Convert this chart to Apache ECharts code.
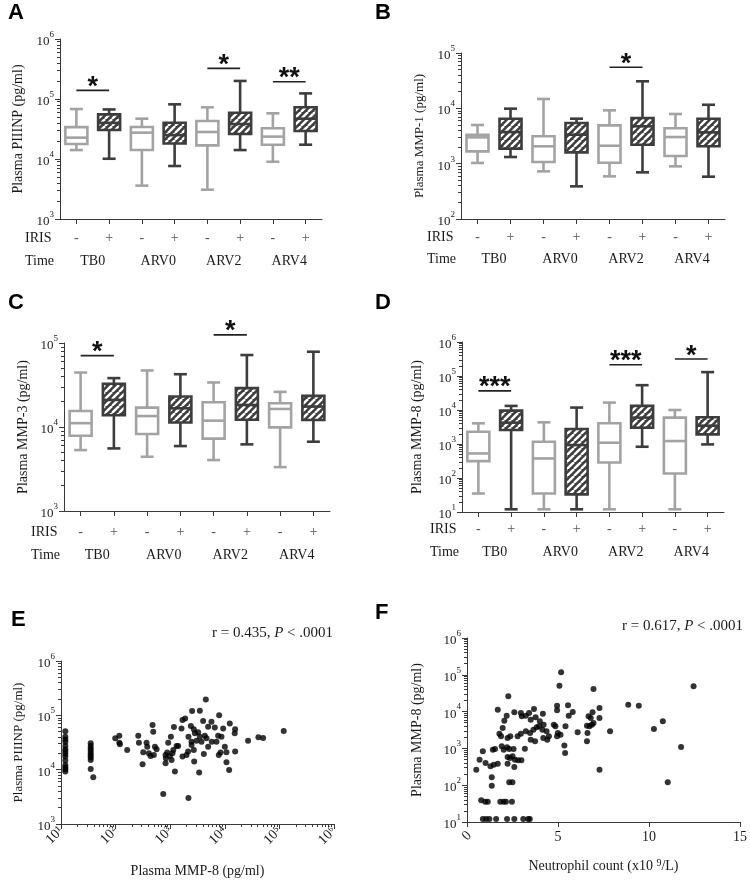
<!DOCTYPE html>
<html><head><meta charset="utf-8">
<script src="https://cdn.jsdelivr.net/npm/echarts@6/dist/echarts.min.js"></script>
<style>html,body{margin:0;padding:0;background:#fff}#c{width:750px;height:886px}</style>
</head><body><div id="c"></div>
<script>
// ---------- data ----------
const groups = ['TB0-','TB0+','ARV0-','ARV0+','ARV2-','ARV2+','ARV4-','ARV4+'];
const irisLabels = ['-','+','-','+','-','+','-','+'];
const timeLabels = ['TB0','ARV0','ARV2','ARV4'];

// each box: [min, Q1, median, Q3, max]
const boxA = [[14100,17800,22700,34000,68000],[10100,30400,40000,55500,67000],
  [3600,14100,27500,34200,47000],[7640,18100,25000,40300,81500],
  [3080,16900,28200,43000,72700],[14100,26100,38300,59100,200000],
  [9000,17300,23600,32500,57700],[17300,29300,47000,72700,124000]];
const boxB = [[1030,1670,2990,3340,5000],[1320,1870,3730,6500,9860],
  [726,1070,2060,3120,14750],[389,1600,3340,5430,6500],
  [590,1040,2110,4930,9200],[697,2200,4730,6690,30800],
  [895,1380,3030,4360,7900],[582,2060,3680,6500,11600]];
const boxC = [[5310,7870,11100,15500,44500],[5560,13800,21000,32700,38200],
  [4420,8240,13500,17000,47100],[5930,11300,16700,23100,42500],
  [4040,7270,11900,19700,33900],[6210,12200,18300,29000,71900],
  [3330,9910,16400,19200,26200],[6680,12100,17500,23500,78700]];
const boxD = [[35,313,527,2300,4060],[12,2580,4250,9590,13200],
  [12,35,376,1170,4340],[12,33,930,2760,11800],
  [12,286,1090,4060,16500],[830,3020,5970,13200,53700],
  [12,135,1220,5970,10000],[973,1920,3460,6100,130000]];

// significance: [fromIndex, toIndex, level, stars]
const sigA = [[0,1,139000,'*'],[4,5,324000,'*'],[6,7,194000,'**']];
const sigB = [[4,5,55100,'*']];
const sigC = [[0,1,70700,'*'],[4,5,125000,'*']];
const sigD = [[0,1,36500,'***'],[4,5,214000,'***'],[6,7,315000,'*']];

// E: [MMP-8, PIIINP]
const scatterE = [[12,50700],[12,40500],[12,36100],[12,32300],[12,27300],[12,23700],[12,21500],[12,19500],[12,17400],[12,14700],[12,12200],[12,11100],[12,10200],[12,9240],
[35,30500],[35,27300],[35,24400],[35,22400],[35,20000],[35,18200],[35,16700],[35,15100],[35,10300],[39,7270],
[4490,195000],[2520,120000],[3490,121000],
[1680,81800],[1880,87700],[7880,100000],[4010,78400],
[475,66200],[1170,60900],[12340,71100],[5700,76300],
[489,50000],[1610,57500],[2390,63600],[2710,55200],[4950,61700],[6560,60000],[9330,57500],[15450,55200],[15200,46600],
[98.6,37800],[117,42200],[260,42200],[1030,40500],[2160,40500],[2830,46600],[3250,48600],[3490,40500],[4310,42200],[4620,37800],[7550,42200],[8690,40500],[41300,39400],[50300,38300],[120000,51400],
[117,31400],[120,29300],[267,31400],[369,31400],[919,31400],[2460,32800],[3030,34200],[3740,32800],[5780,32800],[7040,32800],[26700,34200],
[380,26500],[525,26500],[1310,27300],[1400,27300],[2460,28500],[4950,26500],[10000,26500],
[163,23100],[563,23700],[1140,23100],[2130,21500],[2710,23100],[8340,20600],[10720,20900],[15450,21500],
[321,20900],[407,20000],[882,20600],[1100,20000],[1990,18700],[4130,19500],[7770,18700],
[502,18700],[822,18700],[987,17900],[1680,17400],[437,17900],
[834,16200],[1060,15100],[2750,14100],[10720,13700],[12000,9910],
[312,12600],[822,13100],[1220,9240],[3390,8860],[745,3550],[2160,3000]];

// F: [neutrophil count, MMP-8]
const scatterF = [[5.17,117000],[5.08,50700],[6.95,41100],[12.45,48600],[2.27,26000],[1.69,11300],[2.18,7740],[2.96,9160],[2.60,9550],[3.68,11800],[4.95,14500],[5.55,14800],[8.86,15400],[9.44,14500],[7.28,12500],[7.28,6700],[5.81,9750],[4.17,8790],[4.95,10800],[3.41,9160],[3.01,7430],[2.05,5680],[1.96,3580],[3.50,6040],[3.77,6980],[3.23,7740],[4.0,5450],[3.96,3980],[3.83,3730],[4.21,4420],[3.65,3230],[4.14,3230],[4.37,2910],[3.23,2910],[3.47,2620],[2.96,2510],[2.78,2130],[2.38,2130],[1.78,2510],[1.87,2130],[2.23,1920],[3.50,1730],[3.74,1560],[4.19,1920],[4.41,1730],[4.5,2130],[4.77,4420],[4.86,3980],[4.99,2620],[5.14,2360],[4.95,2130],[5.59,7740],[5.41,3980],[6.08,2740],[6.59,4150],[6.68,7430],[6.8,6700],[6.86,4420],[6.73,3980],[6.62,2620],[6.59,1560],[6.95,4900],[6.9,9550],[7.86,2910],[5.35,1190],[5.39,750],[7.28,264],[10.27,3370],[10.76,5450],[11.76,1090],[11.03,120],
[0.51,264],[0.69,494],[0.87,832],[1.02,401],[1.29,326],[1.47,361],[1.69,385],[1.42,925],[1.54,964],[1.91,1140],[2.02,925],[2.2,1070],[2.32,964],[2.56,964],[2.23,583],[2.36,548],[2.5,608],[2.6,313],[2.63,494],[2.81,474],[2.99,474],[3.18,984],[2.23,385],[1.36,164],[1.36,97],[2.32,120],[2.5,120],
[0.78,38.8],[1.0,35.7],[1.14,35.7],[1.83,35.7],[2.01,35.7],[2.14,35.7],[2.47,35.7],
[0.87,12],[1.05,12],[1.23,12],[1.6,12],[2.2,12],[2.6,12],[3.09,12],[3.36,12],[3.45,12]];

const corrE = ['0.435', '.0001'];
const corrF = ['0.617', '.0001'];

// ---------- style ----------
const SERIF = '"Liberation Serif", "Times New Roman", serif';
const SANS = '"Liberation Sans", Arial, sans-serif';
const LIGHT = '#a3a3a3', DARK = '#3d3d3d', AXIS = '#3a3a3a', TXT = '#1a1a1a';
const BOX_W = 22, CAP_W = 13, LW = 2.6;
const SUP = { '1': '\u00b9', '2': '\u00b2', '3': '\u00b3', '4': '\u2074', '5': '\u2075', '6': '\u2076' };

function makeHatch() {
  const s = 7, c = document.createElement('canvas');
  c.width = s; c.height = s;
  const g = c.getContext('2d');
  g.fillStyle = DARK; g.fillRect(0, 0, s, s);
  g.strokeStyle = '#ffffff'; g.lineWidth = 2.4;
  [-s, 0, s].forEach(function (o) {
    g.beginPath(); g.moveTo(o, s); g.lineTo(o + s, 0); g.stroke();
  });
  return c;
}
const hatch = { image: makeHatch(), repeat: 'repeat' };

const grids = [
  { left: 60, top: 39, width: 262, height: 180 },
  { left: 461, top: 53, width: 264, height: 166 },
  { left: 64, top: 343, width: 266, height: 168 },
  { left: 462, top: 342, width: 262, height: 170 },
  { left: 61, top: 661, width: 273, height: 163 },
  { left: 467, top: 638, width: 276, height: 184 }
];

const powRich = function (fs) {
  return {
    b: { fontSize: fs, fontFamily: SERIF, color: TXT, padding: [5, 0, 0, 0], verticalAlign: 'bottom' },
    s: { fontSize: Math.round(fs * 0.68), fontFamily: SERIF, color: TXT, verticalAlign: 'top' }
  };
};
const powFmt = function (v) { return '{b|10}{s|' + Math.round(Math.log10(v)) + '}'; };
const powUni = function (v) { return '10' + SUP[String(Math.round(Math.log10(v)))]; };

function logY(grid, min, max, name, nameSize, nameGap) {
  return {
    type: 'log', gridIndex: grid, min: min, max: max, logBase: 10,
    name: name, nameLocation: 'middle', nameGap: nameGap,
    nameTextStyle: { fontFamily: SERIF, fontSize: nameSize, color: TXT },
    axisLine: { show: true, lineStyle: { color: AXIS, width: 1 } },
    axisTick: { show: true, length: 5, lineStyle: { color: AXIS } },
    minorTick: { show: true, splitNumber: 9, length: 3, lineStyle: { color: AXIS } },
    splitLine: { show: false }, minorSplitLine: { show: false },
    axisLabel: { formatter: powFmt, rich: powRich(13), margin: 6 }
  };
}

function irisAxis(grid, margin) {
  return {
    type: 'category', gridIndex: grid, data: groups, position: 'bottom',
    axisLine: { lineStyle: { color: AXIS, width: 1 } },
    axisTick: { show: true, alignWithLabel: true, length: 5, lineStyle: { color: AXIS } },
    axisLabel: { formatter: function (v, i) { return irisLabels[i]; }, margin: margin,
      fontFamily: SERIF, fontSize: 14, color: '#555' }
  };
}
function timeAxis(grid, margin) {
  return {
    type: 'category', gridIndex: grid, data: timeLabels, position: 'bottom',
    axisLine: { show: false }, axisTick: { show: false },
    axisLabel: { margin: margin, fontFamily: SERIF, fontSize: 14, color: TXT }
  };
}

function boxRender(box) {
  return function (params, api) {
    const i = api.value(0);
    const c = function (v) { return api.coord([i, v]); };
    const x = c(api.value(1))[0];
    const yMin = c(api.value(1))[1], yQ1 = c(api.value(2))[1], yMed = c(api.value(3))[1],
      yQ3 = c(api.value(4))[1], yMax = c(api.value(5))[1];
    const plus = irisLabels[i] === '+';
    const col = plus ? DARK : LIGHT;
    const ls = { stroke: col, lineWidth: LW };
    const hw = BOX_W / 2, cw = CAP_W / 2;
    return { type: 'group', children: [
      { type: 'line', shape: { x1: x, y1: yMax, x2: x, y2: yQ3 }, style: ls },
      { type: 'line', shape: { x1: x, y1: yQ1, x2: x, y2: yMin }, style: ls },
      { type: 'line', shape: { x1: x - cw, y1: yMax, x2: x + cw, y2: yMax }, style: ls },
      { type: 'line', shape: { x1: x - cw, y1: yMin, x2: x + cw, y2: yMin }, style: ls },
      { type: 'rect', shape: { x: x - hw, y: yQ3, width: BOX_W, height: yQ1 - yQ3 },
        style: { fill: plus ? hatch : '#ffffff', stroke: col, lineWidth: LW } },
      { type: 'line', shape: { x1: x - hw, y1: yMed, x2: x + hw, y2: yMed }, style: ls }
    ] };
  };
}
function sigRender(sig) {
  return function (params, api) {
    const s = sig[params.dataIndex];
    const p1 = api.coord([s[0], s[2]]), p2 = api.coord([s[1], s[2]]);
    return { type: 'group', children: [
      { type: 'line', shape: { x1: p1[0], y1: p1[1], x2: p2[0], y2: p2[1] },
        style: { stroke: '#222', lineWidth: 1.6 } },
      { type: 'text', x: (p1[0] + p2[0]) / 2, y: p1[1] - 3,
        style: { text: s[3], fontFamily: SANS, fontWeight: 'bold', fontSize: 27, fill: '#111',
          align: 'center', verticalAlign: 'middle' } }
    ] };
  };
}

const boxes = [boxA, boxB, boxC, boxD];
const sigs = [sigA, sigB, sigC, sigD];
const series = [];
boxes.forEach(function (b, k) {
  series.push({ type: 'custom', xAxisIndex: 2 * k, yAxisIndex: k, clip: false,
    renderItem: boxRender(b), data: b.map(function (v, i) { return [i].concat(v); }),
    encode: { x: 0, y: [1, 2, 3, 4, 5] } });
  series.push({ type: 'custom', xAxisIndex: 2 * k, yAxisIndex: k, clip: false,
    renderItem: sigRender(sigs[k]), data: sigs[k].map(function (s) { return [s[0], s[1], s[2]]; }),
    encode: { x: [0, 1], y: 2 } });
});
series.push({ type: 'scatter', xAxisIndex: 8, yAxisIndex: 4, data: scatterE, symbolSize: 6,
  itemStyle: { color: '#000' } });
series.push({ type: 'scatter', xAxisIndex: 9, yAxisIndex: 5, data: scatterF, symbolSize: 6,
  itemStyle: { color: '#000' } });

const xAxes = [
  irisAxis(0, 12), timeAxis(0, 35),
  irisAxis(1, 11), timeAxis(1, 33),
  irisAxis(2, 14), timeAxis(2, 37),
  irisAxis(3, 10), timeAxis(3, 33),
  { type: 'log', gridIndex: 4, min: 10, max: 1e6, logBase: 10,
    name: 'Plasma MMP-8 (pg/ml)', nameLocation: 'middle', nameGap: 40,
    nameTextStyle: { fontFamily: SERIF, fontSize: 14, color: TXT },
    axisLine: { lineStyle: { color: AXIS } },
    axisTick: { length: 5, lineStyle: { color: AXIS } },
    minorTick: { show: true, splitNumber: 9, length: 3, lineStyle: { color: AXIS } },
    splitLine: { show: false },
    axisLabel: { formatter: powUni, fontFamily: SERIF, fontSize: 14, color: TXT, rotate: 45, margin: 5 } },
  { type: 'value', gridIndex: 5, min: 0, max: 15, interval: 5,
    name: 'Neutrophil count (x10 {s|9}/L)', nameLocation: 'middle', nameGap: 36,
    nameTextStyle: { fontFamily: SERIF, fontSize: 14, color: TXT,
      rich: { s: { fontFamily: SERIF, fontSize: 10, color: TXT, verticalAlign: 'top', padding: [0, 0, 6, 0] } } },
    axisLine: { lineStyle: { color: AXIS } },
    axisTick: { length: 5, lineStyle: { color: AXIS } },
    splitLine: { show: false },
    axisLabel: { fontFamily: SERIF, fontSize: 14, color: TXT, margin: 8,
      formatter: function (v) { return v === 0 ? '' : String(v); } } }
];
const yAxes = [
  logY(0, 1e3, 1e6, 'Plasma PIIINP (pg/ml)', 14, 35),
  logY(1, 1e2, 1e5, 'Plasma MMP-1 (pg/ml)', 13, 35),
  logY(2, 1e3, 1e5, 'Plasma MMP-3 (pg/ml)', 14, 34),
  logY(3, 1e1, 1e6, 'Plasma MMP-8 (pg/ml)', 14, 38),
  logY(4, 1e3, 1e6, 'Plasma PIIINP (pg/ml)', 13, 36),
  logY(5, 1e1, 1e6, 'Plasma MMP-8 (pg/ml)', 14, 43)
];

function txt(x, y, text, opt, rot) {
  return { type: 'text', x: x, y: y, rotation: rot || 0, style: Object.assign({ text: text,
    fontFamily: SERIF, fontSize: 14, fill: TXT, align: 'left', verticalAlign: 'middle' }, opt || {}) };
}
const letterStyle = { fontFamily: SANS, fontWeight: 'bold', fontSize: 22, fill: '#000', verticalAlign: 'top' };
const corrRich = { i: { fontStyle: 'italic', fontFamily: SERIF, fontSize: 15, fill: TXT } };
const graphics = [
  txt(8, 2, 'A', letterStyle), txt(375, 2, 'B', letterStyle),
  txt(8, 292, 'C', letterStyle), txt(375, 292, 'D', letterStyle),
  txt(11, 609, 'E', letterStyle), txt(375, 602, 'F', letterStyle),
  txt(25, 238, 'IRIS'), txt(25, 261, 'Time'),
  txt(427, 237, 'IRIS'), txt(427, 259, 'Time'),
  txt(31, 532, 'IRIS'), txt(31, 555, 'Time'),
  txt(430, 529, 'IRIS'), txt(430, 552, 'Time'),
  txt(467, 836, '0', { align: 'center' }, Math.PI / 4),
  txt(333, 633, 'r = ' + corrE[0] + ', {i|P} < ' + corrE[1], { align: 'right', fontSize: 15, rich: corrRich }),
  txt(743, 626, 'r = ' + corrF[0] + ', {i|P} < ' + corrF[1], { align: 'right', fontSize: 15, rich: corrRich })
];

const chart = echarts.init(document.getElementById('c'), null, { renderer: 'canvas' });
chart.setOption({
  backgroundColor: '#ffffff',
  animation: false,
  textStyle: { fontFamily: SERIF },
  grid: grids,
  xAxis: xAxes,
  yAxis: yAxes,
  series: series,
  graphic: graphics
});
</script></body></html>
